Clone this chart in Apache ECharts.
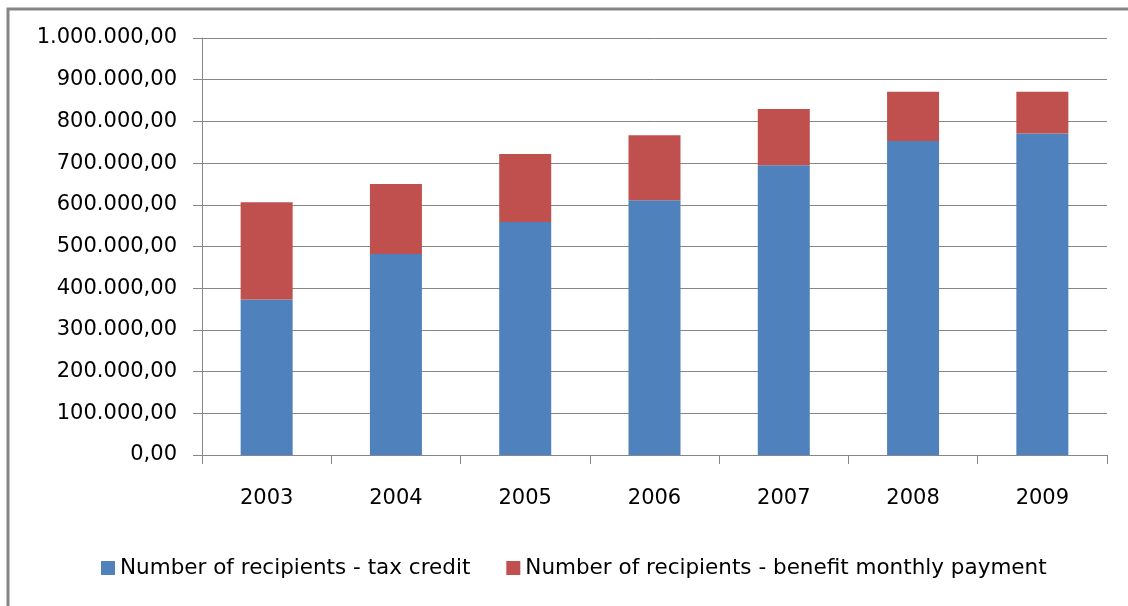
<!DOCTYPE html>
<html>
<head>
<meta charset="utf-8">
<script src="https://cdn.jsdelivr.net/npm/echarts@6/dist/echarts.min.js"></script>
<style>
  html, body { margin: 0; padding: 0; background: #ffffff; }
  #chart { width: 1128px; height: 606px; }
</style>
</head>
<body>
<div id="chart"></div>
<script>
// Recipients per year, stacked: tax credit + benefit monthly payment
const years = ['2003', '2004', '2005', '2006', '2007', '2008', '2009'];
const taxCredit = [373000, 482000, 559000, 611000, 695000, 753000, 771000];
const monthlyBenefit = [233000, 168000, 163000, 156000, 135000, 118000, 100000];
const seriesNames = [
  'Number of recipients - tax credit',
  'Number of recipients - benefit monthly payment'
];

// Format numbers as 1.000.000,00
function fmt(v) {
  const s = Math.round(v).toString().replace(/\B(?=(\d{3})+(?!\d))/g, '.');
  return s + ',00';
}

const grey = '#868686';
const chart = echarts.init(document.getElementById('chart'), null, { renderer: 'canvas' });
chart.setOption({
  animation: false,
  backgroundColor: '#ffffff',
  graphic: [
    {
      type: 'polyline',
      shape: { points: [[8, 620], [8, 9], [1140, 9]] },
      style: { stroke: grey, lineWidth: 3, fill: null }
    }
  ],
  grid: { left: 202, right: 21, top: 38, bottom: 151 },
  legend: {
    left: 96,
    top: 552,
    itemWidth: 14,
    itemHeight: 14,
    itemGap: 36,
    icon: 'rect',
    textStyle: { fontFamily: 'DejaVu Sans', fontSize: 21.5, color: '#000000' },
    data: seriesNames
  },
  xAxis: {
    type: 'category',
    data: years,
    axisLine: { lineStyle: { color: grey, width: 1 } },
    axisTick: { show: true, length: 9, lineStyle: { color: grey } },
    axisLabel: { fontFamily: 'DejaVu Sans', fontSize: 21, color: '#000000', margin: 33 }
  },
  yAxis: {
    type: 'value',
    min: 0,
    max: 1000000,
    interval: 100000,
    axisLine: { show: true, lineStyle: { color: grey, width: 1 } },
    axisTick: { show: true, length: 9, lineStyle: { color: grey } },
    splitLine: { lineStyle: { color: grey, width: 1 } },
    axisLabel: { fontFamily: 'DejaVu Sans', fontSize: 21, color: '#000000', margin: 25, formatter: fmt }
  },
  series: [
    {
      name: seriesNames[0],
      type: 'bar',
      stack: 'total',
      barWidth: 52,
      itemStyle: { color: '#4f81bd' },
      data: taxCredit
    },
    {
      name: seriesNames[1],
      type: 'bar',
      stack: 'total',
      barWidth: 52,
      itemStyle: { color: '#c0504d' },
      data: monthlyBenefit
    }
  ]
});
</script>
</body>
</html>
